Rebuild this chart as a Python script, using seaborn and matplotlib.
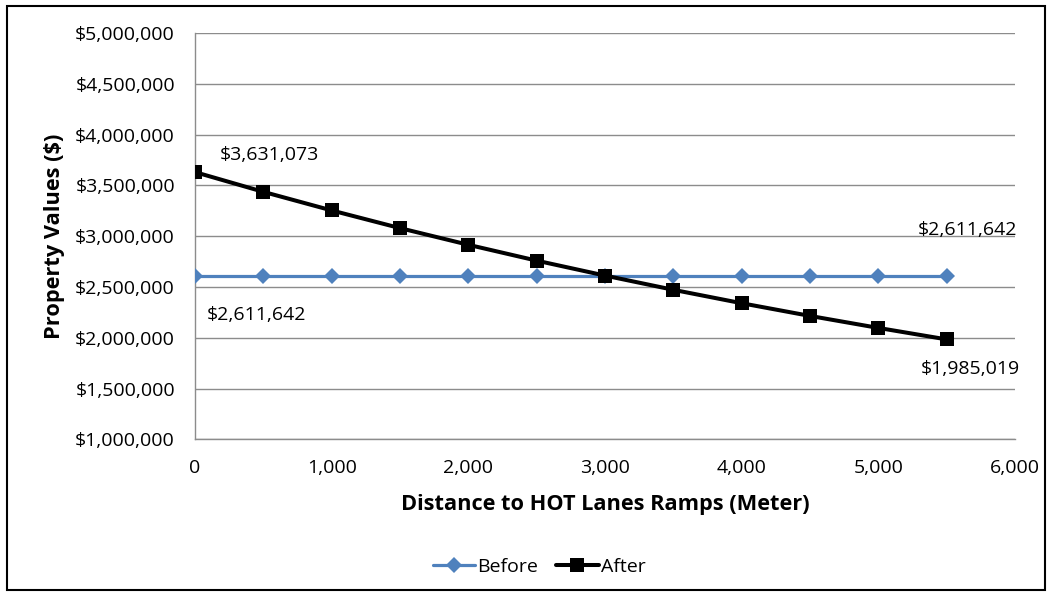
import matplotlib
matplotlib.use("Agg")
import matplotlib.pyplot as plt
import matplotlib.patches as mpatches
from matplotlib.ticker import FuncFormatter
import seaborn as sns
import pandas as pd

distance = [0, 500, 1000, 1500, 2000, 2500, 3000, 3500, 4000, 4500, 5000, 5500]
before = [2611642] * 12
after = [3631073, 3437000, 3254000, 3080000, 2916000, 2760000,
         2613000, 2473000, 2341000, 2216000, 2098000, 1985019]
series_names = ["Before", "After"]

sns.set_theme(style="white")
plt.rcParams['font.family'] = ['Open Sans', 'DejaVu Sans']
plt.rcParams['text.color'] = 'black'

fig = plt.figure(figsize=(10.52, 5.96), dpi=100)
ax = fig.add_axes([0.1854, 0.2626, 0.9648 - 0.1854, 0.9446 - 0.2626])

df_b = pd.DataFrame({"x": distance, "y": before, "s": series_names[0]})
df_a = pd.DataFrame({"x": distance, "y": after, "s": series_names[1]})

sns.lineplot(data=df_b, x="x", y="y", ax=ax, color="#4F81BD", linewidth=2.3,
             marker="D", markersize=8, markeredgewidth=0, label="Before", zorder=3)
sns.lineplot(data=df_a, x="x", y="y", ax=ax, color="black", linewidth=2.9,
             marker="s", markersize=10, markeredgewidth=0, label="After", zorder=4)

ax.set_xlim(0, 6000)
ax.set_ylim(1000000, 5000000)
ax.set_xticks(range(0, 6001, 1000))
ax.set_yticks(range(1000000, 5000001, 500000))
ax.xaxis.set_major_formatter(FuncFormatter(lambda v, p: f"{int(v):,}"))
ax.yaxis.set_major_formatter(FuncFormatter(lambda v, p: f"${int(v):,}"))
ax.tick_params(axis="both", labelsize=14, colors="black", length=0)
ax.tick_params(axis="x", pad=14)
ax.tick_params(axis="y", pad=14.5)
ax.yaxis.grid(True, color="#8C8C8C", linewidth=1)
ax.xaxis.grid(False)
for s in ["top", "right"]:
    ax.spines[s].set_visible(False)
for s in ["left", "bottom"]:
    ax.spines[s].set_color("#8C8C8C")
    ax.spines[s].set_linewidth(1)

ax.set_xlabel("Distance to HOT Lanes Ramps (Meter)", fontsize=15.7, fontweight="bold", color="black")
ax.set_ylabel("Property Values ($)", fontsize=15.7, fontweight="bold", color="black")
ax.xaxis.set_label_coords(0.5, -0.161)
ax.yaxis.set_label_coords(-0.171, 0.5)
ax.xaxis.label.set_va("center")
ax.yaxis.label.set_va("center")

lab_kw = dict(fontsize=14, color="black", textcoords="offset points", ha="left", va="center")
ax.annotate(f"${after[0]:,}", (distance[0], after[0]), xytext=(18, 12), **lab_kw)
ax.annotate(f"${before[0]:,}", (distance[0], before[0]), xytext=(8.6, -28), **lab_kw)
ax.annotate(f"${before[-1]:,}", (distance[-1], before[-1]), xytext=(-21, 33), **lab_kw)
ax.annotate(f"${after[-1]:,}", (distance[-1], after[-1]), xytext=(-19, -21), **lab_kw)

leg = ax.legend(loc="center", bbox_to_anchor=(539 / 1052, 1 - 567 / 596),
                bbox_transform=fig.transFigure, ncol=2, frameon=False, fontsize=14,
                handlelength=2.2, columnspacing=0.9, handletextpad=0.1)
for t in leg.get_texts():
    t.set_color("black")

fig.patches.append(mpatches.Rectangle((7 / 1052, 6 / 596), 1 - 14 / 1052, 1 - 12 / 596,
                                      transform=fig.transFigure, fill=False,
                                      edgecolor="black", linewidth=1.5))

fig.savefig("out.png", dpi=100)
